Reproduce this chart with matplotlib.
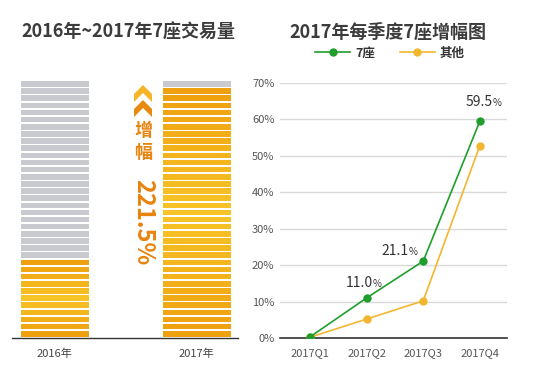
import numpy as np
import matplotlib
matplotlib.use('Agg')
import matplotlib.pyplot as plt
from matplotlib.patches import Polygon
from matplotlib.colors import to_rgb
from matplotlib.lines import Line2D

plt.rcParams['font.family'] = ['Noto Sans CJK SC', 'DejaVu Sans']

# left panel data (stripes of each bar)
years = ['2016年', '2017年']
filled_stripes = [11, 35]
total_stripes = 36
growth_label = '221.5%'

# right panel data
quarters = ['2017Q1', '2017Q2', '2017Q3', '2017Q4']
seven_seat = [0.3, 11.0, 21.1, 59.5]
others = [0.2, 5.2, 10.2, 52.8]
labeled_points = [1, 2, 3]

W, H = 533, 370
fig = plt.figure(figsize=(W / 100, H / 100), dpi=100)


def fx(x):
    return x / W


def fy(y):
    return 1 - y / H


# ---------- left panel ----------
axL = fig.add_axes([fx(12), fy(338), (238 - 12) / W, (338 - 81) / H])
axL.set_xlim(-0.30, 1.29)
axL.set_ylim(0, total_stripes)

c_edge = np.array(to_rgb('#efa00f'))
c_mid = np.array(to_rgb('#f7c427'))
gray = '#c9cacf'
for j, n in enumerate(filled_stripes):
    mid = (n - 1) / 2
    for i in range(total_stripes):
        if i < n:
            t = abs(i - mid) / max(mid, 1)
            col = c_mid * (1 - t) + c_edge * t
        else:
            col = gray
        axL.bar(j, 0.78, bottom=i + 0.2, width=0.48, color=col, linewidth=0,
                snap=True)

for s in ['top', 'right', 'left']:
    axL.spines[s].set_visible(False)
axL.spines['bottom'].set_color('#333333')
axL.spines['bottom'].set_linewidth(1)
axL.set_yticks([])
axL.set_xticks([0, 1], years)
axL.tick_params(axis='x', length=0, pad=8, labelsize=8, labelcolor='#444444')

fig.text(fx(128), fy(32), '2016年~2017年7座交易量', ha='center', va='center',
         fontsize=13, fontweight='bold', color='#3c3c3c')

# chevrons
for y0, col in [(85, '#f6b526'), (100, '#e98a10')]:
    cx = 143
    pts = [(cx - 9, y0 + 9), (cx, y0), (cx + 9, y0 + 9), (cx + 9, y0 + 17),
           (cx, y0 + 8), (cx - 9, y0 + 17)]
    fig.patches.append(Polygon([(fx(a), fy(b)) for a, b in pts], closed=True,
                               transform=fig.transFigure, color=col, lw=0))

orange_txt = '#e8830e'
fig.text(fx(143), fy(131), '增', ha='center', va='center', fontsize=13,
         fontweight='bold', color=orange_txt)
fig.text(fx(143), fy(152), '幅', ha='center', va='center', fontsize=13,
         fontweight='bold', color=orange_txt)
fig.text(fx(143), fy(222), growth_label, ha='center', va='center', fontsize=17,
         fontweight='heavy', color=orange_txt, rotation=-90)

# ---------- right panel ----------
axR = fig.add_axes([fx(280), fy(338), (507 - 280) / W, (338 - 83) / H])
x = np.arange(len(quarters))
green = '#1f9e2c'
yellow = '#f3b630'
axR.plot(x, others, color=yellow, lw=1.2, marker='o', ms=5, zorder=3)
axR.plot(x, seven_seat, color=green, lw=1.2, marker='o', ms=5, zorder=4)
axR.set_xlim(-0.53, 3.48)
axR.set_ylim(0, 70)
yt = np.arange(0, 71, 10)
axR.set_yticks(yt, [f'{v}%' for v in yt])
for v in yt[1:]:
    axR.axhline(v, color='#d9d9d9', lw=1, zorder=1)
axR.set_xticks(x, quarters)
axR.tick_params(axis='both', length=0, labelsize=8, labelcolor='#555555')
axR.tick_params(axis='x', pad=7)
axR.tick_params(axis='y', pad=4)
for s in ['top', 'right', 'left']:
    axR.spines[s].set_visible(False)
axR.spines['bottom'].set_color('#333333')
axR.spines['bottom'].set_linewidth(1.2)

# value labels: pixel offsets (split between number and %), baseline offset
label_offsets = {1: (6.5, 11), 2: (-14.5, 6), 3: (13, 15)}
for i in labeled_points:
    dx, dy = label_offsets[i]
    axR.annotate(f'{seven_seat[i]:.1f}', xy=(x[i], seven_seat[i]), xytext=(dx, dy),
                 textcoords='offset pixels', ha='right', va='baseline',
                 fontsize=10, color='#333333')
    axR.annotate('%', xy=(x[i], seven_seat[i]), xytext=(dx, dy),
                 textcoords='offset pixels', ha='left', va='baseline',
                 fontsize=7, color='#333333')

fig.text(fx(388), fy(32), '2017年每季度7座增幅图', ha='center', va='center',
         fontsize=13, fontweight='bold', color='#3c3c3c')

handles = [Line2D([], [], color=green, lw=1.2, marker='o', ms=5),
           Line2D([], [], color=yellow, lw=1.2, marker='o', ms=5)]
fig.legend(handles, ['7座', '其他'], loc='center', bbox_to_anchor=(fx(390), fy(53)),
           ncol=2, frameon=False, handlelength=2.8,
           columnspacing=2.0, handletextpad=0.4, labelcolor='#333333',
           prop={'weight': 'bold', 'size': 9})

fig.savefig('out.png', dpi=100, facecolor='white')
